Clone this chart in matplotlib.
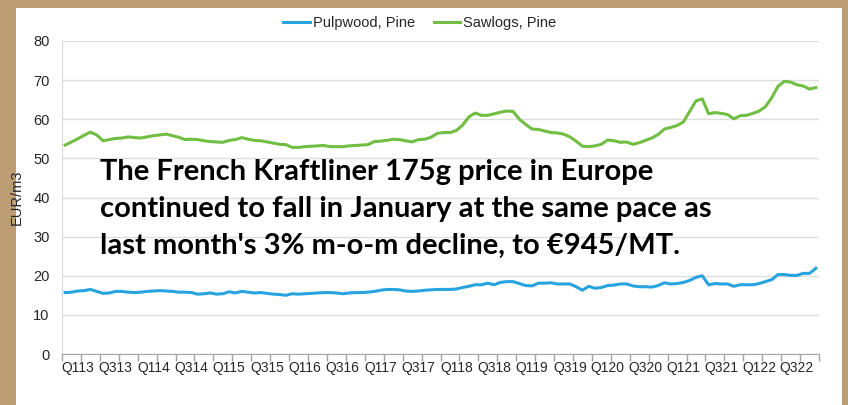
import numpy as np
import matplotlib
matplotlib.use("Agg")
import matplotlib.pyplot as plt
from matplotlib.patches import Rectangle

# monthly prices, Jan 2013 .. Dec 2022 (EUR/m3)
pulpwood_pine = [
    15.7, 15.8, 16.1, 16.2, 16.5, 16.0, 15.5, 15.6, 16.0, 16.0,
    15.8, 15.7, 15.8, 16.0, 16.1, 16.2, 16.1, 16.0, 15.8, 15.8,
    15.7, 15.3, 15.4, 15.6, 15.3, 15.4, 15.9, 15.6, 16.0, 15.8,
    15.6, 15.7, 15.5, 15.3, 15.2, 15.0, 15.4, 15.3, 15.4, 15.5,
    15.6, 15.7, 15.7, 15.6, 15.4, 15.6, 15.7, 15.7, 15.8, 16.0,
    16.3, 16.5, 16.5, 16.4, 16.1, 16.0, 16.1, 16.3, 16.4, 16.5,
    16.5, 16.5, 16.6, 17.0, 17.3, 17.7, 17.7, 18.1, 17.7, 18.3,
    18.5, 18.5, 18.0, 17.5, 17.4, 18.1, 18.1, 18.2, 17.9, 17.9,
    17.9, 17.2, 16.3, 17.3, 16.8, 17.0, 17.5, 17.6, 17.9, 17.9,
    17.4, 17.2, 17.2, 17.1, 17.5, 18.2, 17.9, 18.0, 18.3, 18.8,
    19.6, 20.0, 17.7, 18.0, 17.9, 17.9, 17.3, 17.7, 17.7, 17.7,
    18.0, 18.5, 19.0, 20.3, 20.3, 20.1, 20.1, 20.6, 20.6, 21.9,
]
sawlogs_pine = [
    53.4, 54.2, 55.0, 55.9, 56.7, 56.0, 54.5, 54.8, 55.1, 55.2,
    55.5, 55.3, 55.2, 55.5, 55.8, 56.0, 56.2, 55.8, 55.4, 54.8,
    54.9, 54.8, 54.5, 54.3, 54.2, 54.1, 54.6, 54.8, 55.3, 54.9,
    54.6, 54.5, 54.2, 53.9, 53.6, 53.5, 52.8, 52.8, 53.0, 53.1,
    53.2, 53.3, 53.0, 53.0, 53.0, 53.2, 53.3, 53.4, 53.5, 54.3,
    54.4, 54.6, 54.9, 54.8, 54.5, 54.2, 54.8, 54.9, 55.4, 56.4,
    56.6, 56.6, 57.1, 58.5, 60.6, 61.6, 61.0, 61.0, 61.4, 61.8,
    62.1, 62.0, 60.0, 58.7, 57.5, 57.4, 57.0, 56.6, 56.5, 56.2,
    55.5, 54.4, 53.1, 53.0, 53.2, 53.6, 54.7, 54.5, 54.1, 54.2,
    53.6, 54.0, 54.6, 55.2, 56.1, 57.5, 57.9, 58.4, 59.3, 62.0,
    64.7, 65.2, 61.4, 61.7, 61.5, 61.2, 60.1, 60.9, 61.0, 61.5,
    62.1, 63.2, 65.5, 68.4, 69.7, 69.5, 68.8, 68.5, 67.7, 68.1,
]
quarter_labels = ["Q113", "Q313", "Q114", "Q314", "Q115", "Q315", "Q116", "Q316",
                  "Q117", "Q317", "Q118", "Q318", "Q119", "Q319", "Q120", "Q320",
                  "Q121", "Q321", "Q122", "Q322"]
headline = ["The French Kraftliner 175g price in Europe",
            "continued to fall in January at the same pace as",
            "last month's 3% m-o-m decline, to \u20ac945/MT."]

plt.rcParams["font.family"] = ["Liberation Sans", "DejaVu Sans"]

fig = plt.figure(figsize=(8.48, 4.05), dpi=100, facecolor="#bd9d74")
# white card on the cardboard background
fig.patches.append(Rectangle((16 / 848, 0), (842 - 16) / 848, 1 - 8 / 405,
                             transform=fig.transFigure, facecolor="white",
                             edgecolor="none", zorder=-10))

ax = fig.add_axes([62 / 848, 1 - 354 / 405, (819 - 62) / 848, (354 - 41) / 405])
ax.set_facecolor("white")

x = np.arange(len(sawlogs_pine))
blue = "#27a4df"
green = "#72bd43"
ax.plot(x, pulpwood_pine, color=blue, lw=2.2, label="Pulpwood, Pine", zorder=3)
ax.plot(x, sawlogs_pine, color=green, lw=2.2, label="Sawlogs, Pine", zorder=3)

ax.set_xlim(-0.5, len(x) - 0.5)
ax.set_ylim(0, 80)
ax.set_yticks(range(0, 81, 10))
ax.grid(axis="y", color="#dedede", lw=1)
ax.set_axisbelow(True)
ax.tick_params(axis="y", length=0, pad=9, labelsize=10.5, labelcolor="#262626")

# tick marks every quarter, labels every half year
ax.set_xticks(np.arange(-0.5, len(x), 3))
ax.set_xticklabels([])
ax.tick_params(axis="x", which="major", length=5, color="#a6a6a6", width=1)
ax.set_xticks(np.arange(2, len(x), 6), minor=True)
ax.set_xticklabels(quarter_labels, minor=True)
ax.tick_params(axis="x", which="minor", length=0, pad=5, labelsize=10,
               labelcolor="#262626")

for side in ["top", "right"]:
    ax.spines[side].set_visible(False)
ax.spines["left"].set_color("#d9d9d9")
ax.spines["bottom"].set_color("#a6a6a6")

ax.set_ylabel("EUR/m3", fontsize=10.5, color="#262626", labelpad=7)

fig.legend(loc="center", bbox_to_anchor=(0.495, 1 - 23 / 405), ncol=2,
           frameon=False, fontsize=10.5, handlelength=1.8, handletextpad=0.2,
           columnspacing=1.3, labelcolor="#262626")

for i, line in enumerate(headline):
    fig.text(100 / 848, 1 - (172 + 37 * i) / 405, line, ha="left", va="center",
             fontsize=21, fontweight="bold", color="black",
             family=["Lato", "DejaVu Sans"], zorder=5)

fig.savefig("out.png", dpi=100, facecolor=fig.get_facecolor())
